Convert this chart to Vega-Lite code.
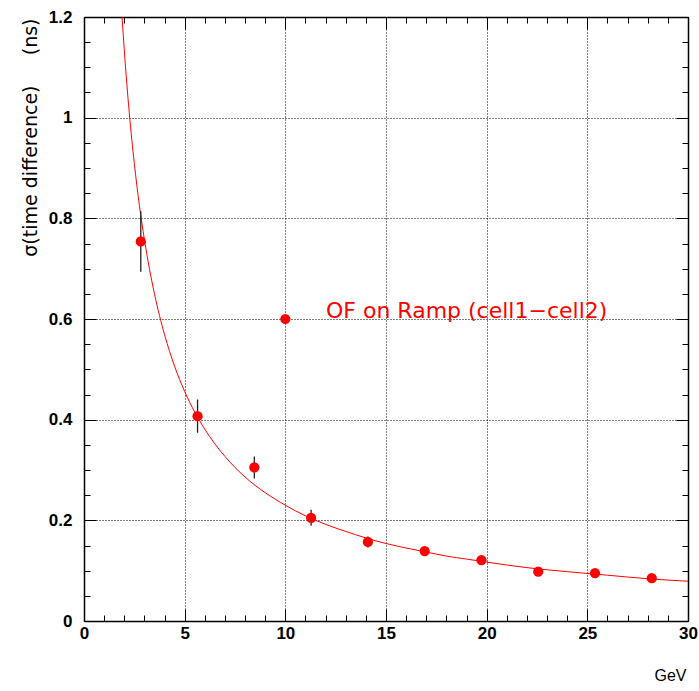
{
  "$schema": "https://vega.github.io/schema/vega-lite/v6.json",
  "width": 604,
  "height": 604,
  "autosize": {"type": "none"},
  "padding": {"left": 84, "top": 17, "right": 11, "bottom": 70},
  "background": "white",
  "config": {
    "view": {"stroke": "black", "strokeWidth": 1},
    "axis": {
      "domainColor": "black",
      "domainWidth": 1.5,
      "tickColor": "black",
      "tickWidth": 1,
      "labelFont": "Liberation Sans",
      "labelFontWeight": "bold",
      "labelFontSize": 17,
      "labelColor": "black",
      "titleColor": "black"
    }
  },
  "datasets": {
    "curve": [
      {"gev": 1.89, "sigma": 1.2},
      {"gev": 2.0, "sigma": 1.135},
      {"gev": 2.25, "sigma": 1.009},
      {"gev": 2.5, "sigma": 0.909},
      {"gev": 2.75, "sigma": 0.826},
      {"gev": 3.0, "sigma": 0.758},
      {"gev": 3.5, "sigma": 0.65},
      {"gev": 4.0, "sigma": 0.569},
      {"gev": 4.5, "sigma": 0.506},
      {"gev": 5.0, "sigma": 0.456},
      {"gev": 5.5, "sigma": 0.415},
      {"gev": 6.0, "sigma": 0.381},
      {"gev": 7.0, "sigma": 0.327},
      {"gev": 8.0, "sigma": 0.286},
      {"gev": 9.0, "sigma": 0.255},
      {"gev": 10.0, "sigma": 0.23},
      {"gev": 11.0, "sigma": 0.209},
      {"gev": 12.0, "sigma": 0.192},
      {"gev": 13.0, "sigma": 0.178},
      {"gev": 14.0, "sigma": 0.165},
      {"gev": 15.0, "sigma": 0.154},
      {"gev": 16.0, "sigma": 0.145},
      {"gev": 17.0, "sigma": 0.137},
      {"gev": 18.0, "sigma": 0.129},
      {"gev": 19.0, "sigma": 0.123},
      {"gev": 20.0, "sigma": 0.117},
      {"gev": 22.0, "sigma": 0.106},
      {"gev": 24.0, "sigma": 0.098},
      {"gev": 26.0, "sigma": 0.091},
      {"gev": 28.0, "sigma": 0.084},
      {"gev": 30.0, "sigma": 0.079}
    ],
    "points": [
      {"gev": 2.82, "sigma": 0.754, "err": 0.06},
      {"gev": 5.64, "sigma": 0.407, "err": 0.033},
      {"gev": 8.46, "sigma": 0.305, "err": 0.022},
      {"gev": 11.28, "sigma": 0.205, "err": 0.016},
      {"gev": 14.1, "sigma": 0.157, "err": 0.011},
      {"gev": 16.92, "sigma": 0.139, "err": 0.007},
      {"gev": 19.74, "sigma": 0.121, "err": 0.006},
      {"gev": 22.56, "sigma": 0.098, "err": 0.005},
      {"gev": 25.38, "sigma": 0.095, "err": 0.005},
      {"gev": 28.2, "sigma": 0.085, "err": 0.005}
    ],
    "legend": [
      {"gev": 10.0, "sigma": 0.6, "tx": 12.02, "ty": 0.615, "label": "OF on Ramp (cell1\u2212cell2)"}
    ]
  },
  "layer": [
    {
      "data": {"name": "curve"},
      "mark": {"type": "line", "color": "#ff0000", "strokeWidth": 1, "interpolate": "monotone"},
      "encoding": {
        "x": {
          "field": "gev", "type": "quantitative",
          "scale": {"domain": [0, 30], "nice": false, "zero": false},
          "axis": {
            "orient": "bottom",
            "values": [0,1,2,3,4,5,6,7,8,9,10,11,12,13,14,15,16,17,18,19,20,21,22,23,24,25,26,27,28,29,30],
            "labelExpr": "datum.value % 5 === 0 ? datum.label : ''",
            "tickSize": {"condition": {"test": "datum.value % 5 === 0", "value": -12}, "value": -6},
            "labelPadding": 16,
            "labelFlush": false,
            "labelOverlap": false,
            "grid": true,
            "gridColor": "black",
            "gridDash": [1, 2],
            "gridWidth": 1,
            "gridOpacity": {"condition": {"test": "datum.value % 5 === 0 && datum.value > 0 && datum.value < 30", "value": 1}, "value": 0},
            "title": "GeV",
            "titleFont": "Liberation Sans",
            "titleFontWeight": "normal",
            "titleFontSize": 16,
            "titleAnchor": "end",
            "titleAlign": "right",
            "titleBaseline": "alphabetic",
            "titleX": 602,
            "titleY": 59
          }
        },
        "y": {
          "field": "sigma", "type": "quantitative",
          "scale": {"domain": [0, 1.2], "nice": false, "zero": false},
          "axis": {
            "orient": "left",
            "values": [0,0.05,0.1,0.15,0.2,0.25,0.3,0.35,0.4,0.45,0.5,0.55,0.6,0.65,0.7,0.75,0.8,0.85,0.9,0.95,1.0,1.05,1.1,1.15,1.2],
            "labelExpr": "abs(datum.value*5 - round(datum.value*5)) < 0.001 ? format(datum.value, '.1~f') : ''",
            "tickSize": {"condition": {"test": "abs(datum.value*5 - round(datum.value*5)) < 0.001", "value": -12}, "value": -6},
            "labelPadding": 24,
            "labelFlush": false,
            "labelOverlap": false,
            "grid": true,
            "gridColor": "black",
            "gridDash": [1, 2],
            "gridWidth": 1,
            "gridOpacity": {"condition": {"test": "abs(datum.value*5 - round(datum.value*5)) < 0.001 && datum.value > 0.01 && datum.value < 1.19", "value": 1}, "value": 0},
            "title": "\u03c3(time difference)\u00a0\u00a0\u00a0\u00a0\u00a0(ns)",
            "titleFont": "DejaVu Sans",
            "titleFontWeight": "normal",
            "titleFontSize": 19,
            "titleAngle": -90,
            "titleAnchor": "end",
            "titleAlign": "right",
            "titleBaseline": "middle",
            "titleX": -54,
            "titleY": 1
          }
        }
      }
    },
    {
      "data": {"name": "points"},
      "mark": {"type": "rule", "color": "#222222", "strokeWidth": 1.3},
      "encoding": {
        "x": {
          "field": "gev", "type": "quantitative",
          "axis": {
            "orient": "top",
            "values": [0,1,2,3,4,5,6,7,8,9,10,11,12,13,14,15,16,17,18,19,20,21,22,23,24,25,26,27,28,29,30],
            "labels": false,
            "grid": false,
            "tickSize": {"condition": {"test": "datum.value % 5 === 0", "value": -12}, "value": -6},
            "title": null
          }
        },
        "y": {
          "field": "lo", "type": "quantitative",
          "axis": {
            "orient": "right",
            "values": [0,0.05,0.1,0.15,0.2,0.25,0.3,0.35,0.4,0.45,0.5,0.55,0.6,0.65,0.7,0.75,0.8,0.85,0.9,0.95,1.0,1.05,1.1,1.15,1.2],
            "labels": false,
            "grid": false,
            "tickSize": {"condition": {"test": "abs(datum.value*5 - round(datum.value*5)) < 0.001", "value": -12}, "value": -6},
            "title": null
          }
        },
        "y2": {"field": "hi"}
      },
      "transform": [
        {"calculate": "datum.sigma - datum.err", "as": "lo"},
        {"calculate": "datum.sigma + datum.err", "as": "hi"}
      ]
    },
    {
      "data": {"name": "points"},
      "mark": {"type": "point", "shape": "circle", "filled": true, "color": "#ff0000", "opacity": 1, "size": 105},
      "encoding": {
        "x": {"field": "gev", "type": "quantitative", "axis": null},
        "y": {"field": "sigma", "type": "quantitative", "axis": null}
      }
    },
    {
      "data": {"name": "legend"},
      "mark": {"type": "point", "shape": "circle", "filled": true, "color": "#ff0000", "opacity": 1, "size": 105},
      "encoding": {
        "x": {"field": "gev", "type": "quantitative", "axis": null},
        "y": {"field": "sigma", "type": "quantitative", "axis": null}
      }
    },
    {
      "data": {"name": "legend"},
      "mark": {"type": "text", "color": "#ff0000", "font": "DejaVu Sans", "fontSize": 22, "align": "left", "baseline": "middle"},
      "encoding": {
        "x": {"field": "tx", "type": "quantitative", "axis": null},
        "y": {"field": "ty", "type": "quantitative", "axis": null},
        "text": {"field": "label"}
      }
    }
  ]
}
